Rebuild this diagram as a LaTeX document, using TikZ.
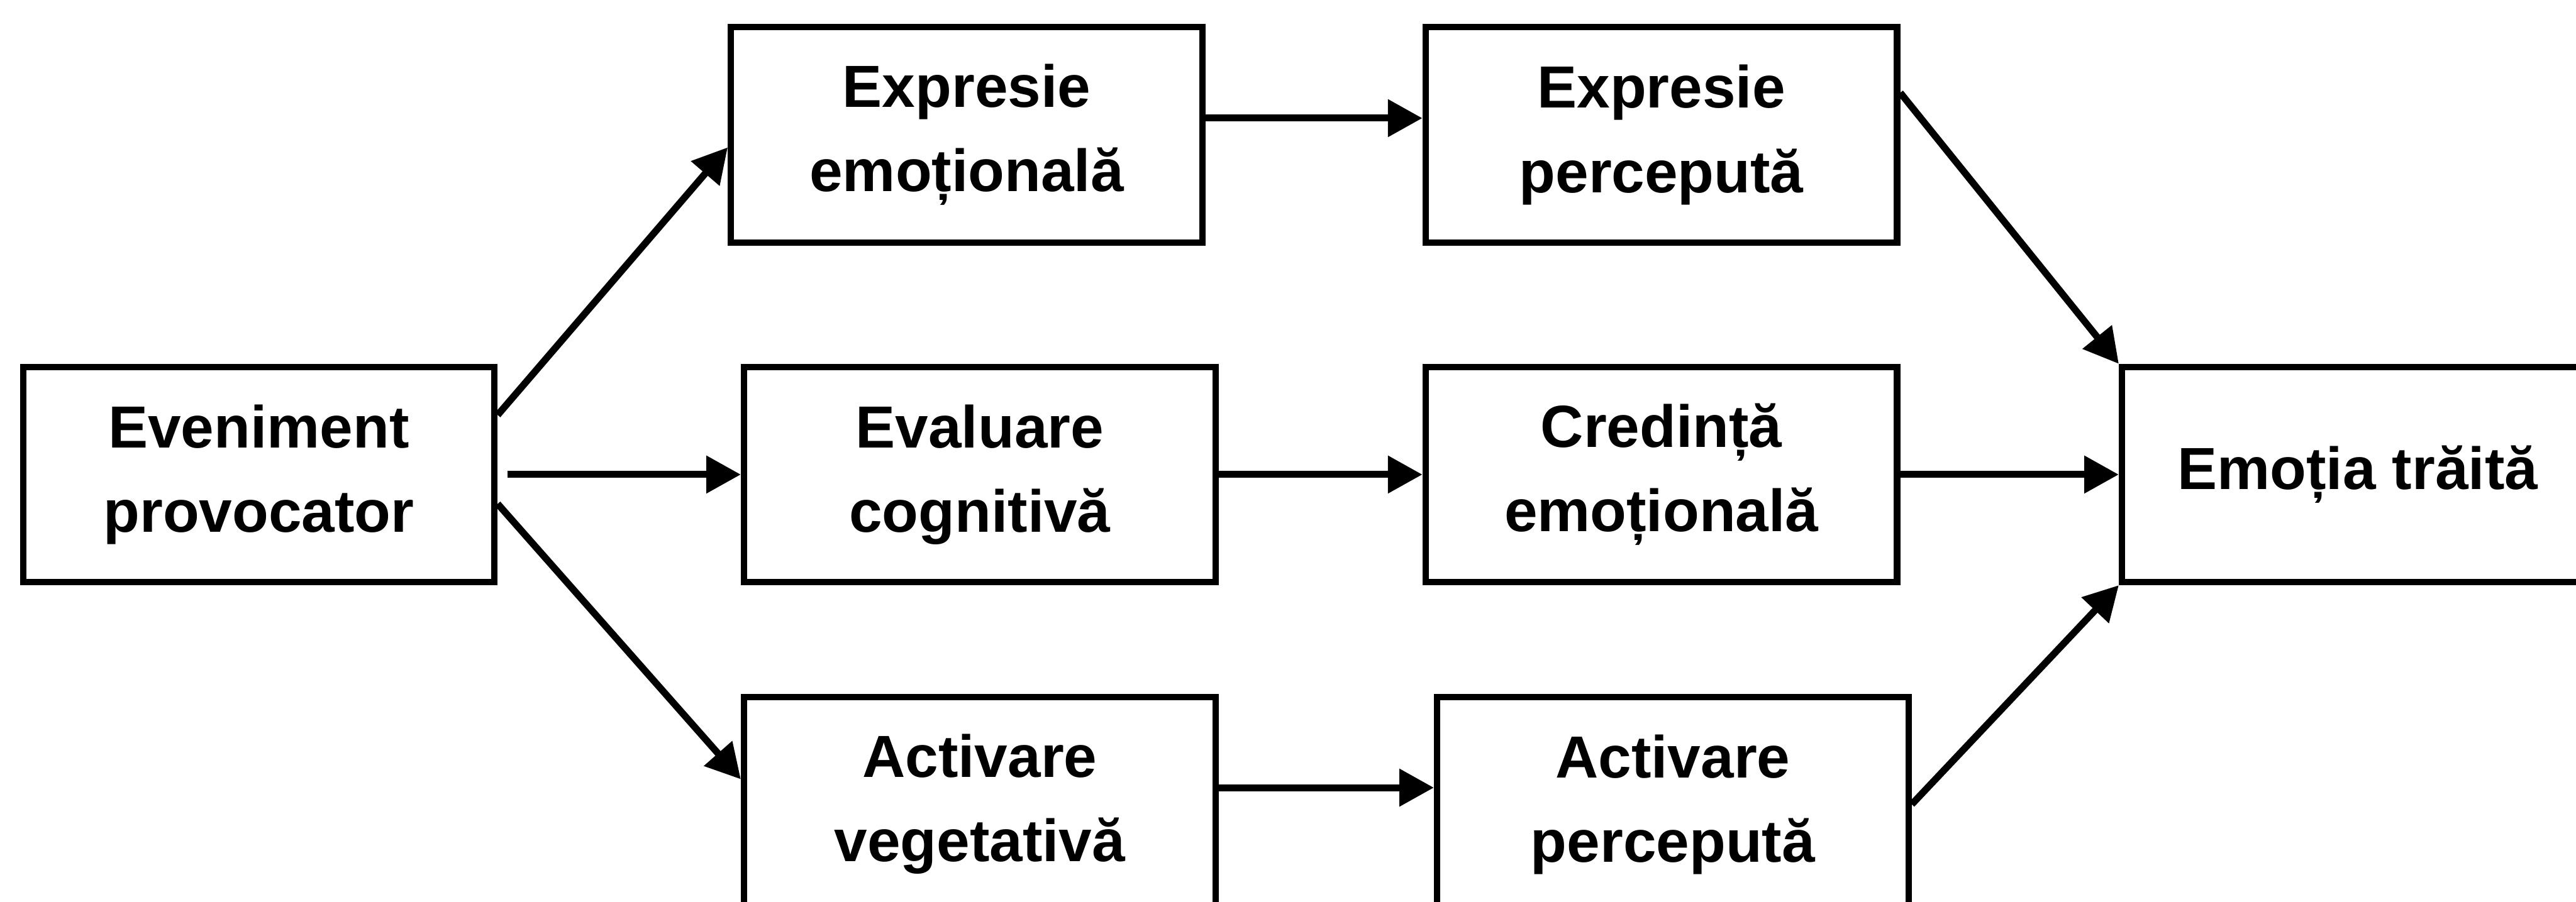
\documentclass[tikz,border=0pt]{standalone}
\usepackage{fontspec}
\setmainfont{Liberation Sans}
\usetikzlibrary{positioning, arrows.meta}

\tikzstyle{block} = [
    rectangle,
    minimum width=2.87cm,
    minimum height=1.31cm,
    inner sep=0pt,
    align=center,
    font=\fontsize{10.3}{14.6}\selectfont\bfseries,
    line width=1.1pt,
    draw=black
]
\tikzstyle{arrow} = [line width=1.2pt,-{Triangle[length=2.1mm,width=2.2mm]}]

\begin{document}
\begin{tikzpicture}[node distance=0.72cm and 1.3cm]

\useasboundingbox (0,0) rectangle (15.68,-5.49);

\node (event) [block] at (1.575,-2.89) {Eveniment\\provocator};

\node (appraisal) [block, right=1.48cm of event]
{Evaluare\\cognitivă};

\node (belief) [block, right=1.24cm of appraisal]
{Credință\\emoțională};

\node (felt) [block, right=1.33cm of belief]
{Emoția trăită};

\node (expression) [block, above=0.72cm of appraisal, xshift=-0.08cm]
{Expresie\\emoțională};

\node (percexpr) [block, above=0.72cm of belief]
{Expresie\\percepută};

\node (arousal) [block, below=0.66cm of appraisal]
{Activare\\vegetativă};

\node (percarousal) [block, below=0.66cm of belief, xshift=0.07cm]
{Activare\\percepută};

\draw [arrow] (event.14) -- (expression.183);
\draw [arrow, shorten <=0.06cm] (event) -- (appraisal);
\draw [arrow] (event.-7) -- (arousal.174);

\draw [arrow] (expression.4) -- (percexpr.176);
\draw [arrow] (appraisal) -- (belief);
\draw [arrow] (arousal.4) -- (percarousal.176);

\draw [arrow] (percexpr.10) -- (felt.north west);
\draw [arrow] (belief) -- (felt);
\draw [arrow] (percarousal.east) -- (felt.south west);

\end{tikzpicture}
\end{document}
